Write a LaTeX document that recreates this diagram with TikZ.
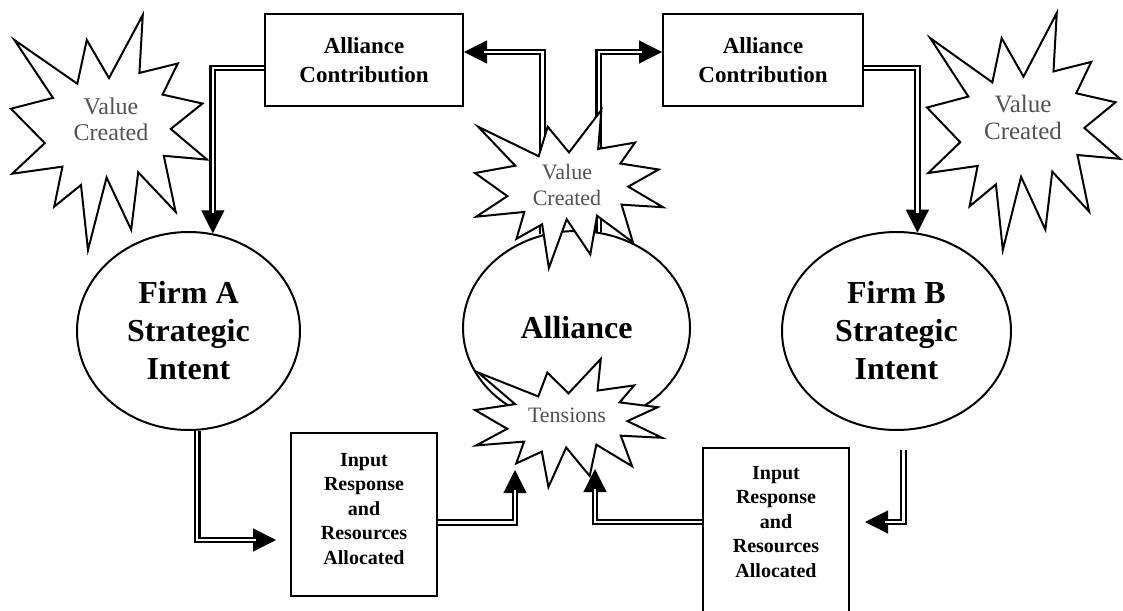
\documentclass[tikz,border=0pt]{standalone}
\usepackage{fontspec}
\setmainfont{Liberation Serif}
\usetikzlibrary{shapes.geometric,arrows.meta}

% explosion outline on a 216 x 216 grid, scaled into the box (x0,y0,w,h)
\newcommand\burst[4]{%
  \begin{scope}[shift={(#1,#2)}, xscale=#3/216, yscale=#4/216]
    \filldraw[burstline] (108,58) -- (145.22,0) -- (141.55,53.25) -- (183.8,44.57)
      -- (167.02,73.15) -- (210.97,81.37) -- (176.07,104.75) -- (216,132.9)
      -- (168.37,129.42) -- (181.45,180.95) -- (140.2,144.57) -- (132.47,197.37)
      -- (105.32,149.35) -- (84.85,216) -- (77.15,156.27) -- (47.62,176.17)
      -- (56.67,139.37) -- (1.35,145.87) -- (37.22,117.75) -- (0,86.15)
      -- (46.27,76.17) -- (3.7,22.95) -- (73.12,63.2) -- (83.52,22.95) -- cycle;
  \end{scope}}

% double-line flow with a solid head
\newcommand\flowline[1]{\draw[flowtip] #1; \draw[flowdbl] #1;}

\tikzset{
  box/.style={draw, line width=1pt, fill=white, inner sep=0pt, align=center},
  bigbox/.style={box, font=\fontsize{11.5}{14.5}\selectfont\bfseries},
  smalltext/.style={align=center, inner sep=0pt, font=\fontsize{10}{12.25}\selectfont\bfseries},
  oval/.style={ellipse, draw, line width=1pt, fill=white, inner sep=0pt, align=center,
    font=\fontsize{16}{19}\selectfont\bfseries},
  burstline/.style={draw, fill=white, line width=1pt, line join=miter},
  bursttext/.style={align=center, inner sep=0pt, text=black!68},
  flowdbl/.style={double, line width=1.1pt, double distance=1.2pt, shorten >=10pt},
  flowtip/.style={line width=0.6pt, -{Triangle[length=11.5pt,width=11.5pt]}},
}

\begin{document}
\begin{tikzpicture}[x=0.5pt, y=-0.5pt]
\useasboundingbox (0,0) rectangle (1123,610);
\clip (0,0) rectangle (1123,610);

% strategic intents and the alliance
\node[oval, minimum width=111.5pt, minimum height=99pt] (fa) at (188.5,331) {Firm A\\Strategic\\Intent};
\node[oval, minimum width=113.5pt, minimum height=97pt] (al) at (576.5,328) {Alliance};
\node[oval, minimum width=114.5pt, minimum height=99pt] (fb) at (896.5,331) {Firm B\\Strategic\\Intent};

% contribution and resource boxes
\node[bigbox, minimum width=99pt, minimum height=46pt] (b1) at (364,60) {Alliance\\Contribution};
\node[bigbox, minimum width=100pt, minimum height=46pt] (b2) at (763,60) {Alliance\\Contribution};
\node[box, minimum width=73pt, minimum height=81.5pt] (b3) at (364,514.5) {};
\node[smalltext] (b3t) at (364,509) {Input\\Response\\and\\Resources\\Allocated};
\node[box, minimum width=73pt, minimum height=91pt] (b4) at (776,539) {};
\node[smalltext] (b4t) at (776,522) {Input\\Response\\and\\Resources\\Allocated};

% outer value bursts
\burst{11}{15}{196}{235}
\node[bursttext, font=\fontsize{12}{13}\selectfont] (v1) at (111,119) {Value\\Created};
\burst{927}{13}{193}{237}
\node[bursttext, font=\fontsize{12.5}{13.5}\selectfont] (v3) at (1023,117) {Value\\Created};

% alliance to contributions
\flowline{(al.110.5) |- ([yshift=4pt]b1.east)}
\flowline{(al.77.9) |- ([yshift=4pt]b2.west)}

% central bursts
\burst{475}{110}{188}{158}
\node[bursttext, font=\fontsize{11}{13}\selectfont] (v2) at (567,185) {Value\\Created};
\burst{475}{359}{187}{128}
\node[bursttext, font=\fontsize{11}{13}\selectfont] (tn) at (567,415) {Tensions};

\coordinate (tA) at (515,470);
\coordinate (tB) at (595,469);

% contributions back to the firms
\flowline{([yshift=-4pt]b1.west) -| (fa.76.7)}
\flowline{([yshift=-4pt]b2.east) -| (fb.78.1)}

% firms to resources, resources to tensions
\flowline{(fa.-85.1) |- ([xshift=-7pt,yshift=-12.75pt]b3.west)}
\flowline{([yshift=-4pt]b3.east) -| (tA)}
\flowline{([yshift=8.5pt]b4.west) -| (tB)}
\flowline{([xshift=3.5pt,yshift=-9.5pt]fb.south) |- ([xshift=7.5pt,yshift=8.5pt]b4.east)}
\end{tikzpicture}
\end{document}
